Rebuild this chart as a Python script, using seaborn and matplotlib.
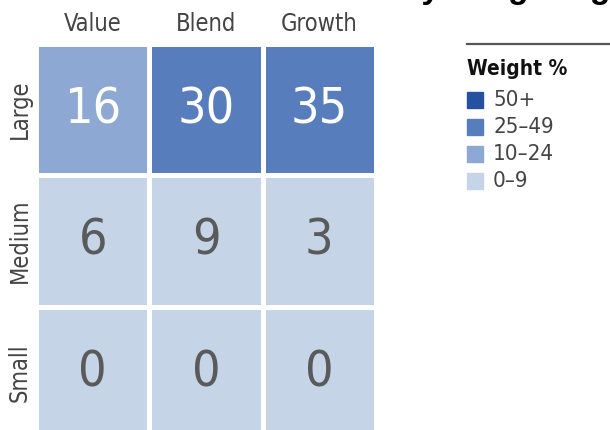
import numpy as np
import pandas as pd
import seaborn as sns
import matplotlib.pyplot as plt
from matplotlib.colors import ListedColormap, BoundaryNorm
from matplotlib.patches import Rectangle
from matplotlib.lines import Line2D

# datos del style box
styles = ['Value', 'Blend', 'Growth']
sizes = ['Large', 'Medium', 'Small']
weights = [[16, 30, 35],
           [6, 9, 3],
           [0, 0, 0]]

legend_labels = ['50+', '25–49', '10–24', '0–9']
legend_colors = ['#2452a0', '#587dbd', '#8da8d3', '#c6d4e8']
bounds = [0, 10, 25, 50, 101]

df = pd.DataFrame(weights, index=sizes, columns=styles)

narrow = dict(family='DejaVu Sans', stretch='condensed')
fig = plt.figure(figsize=(6.1, 4.3), dpi=100)
ax = fig.add_axes([36 / 610, -8 / 430, 340 / 610, 394 / 430])

cmap = ListedColormap(legend_colors[::-1])
norm = BoundaryNorm(bounds, cmap.N)
sns.heatmap(df, ax=ax, cmap=cmap, norm=norm, cbar=False, annot=True, fmt='d',
            linewidths=3.4, linecolor='white',
            annot_kws=dict(fontsize=36, weight='light', **narrow))

for t in ax.texts:
    v = int(t.get_text())
    t.set_color('white' if v >= 10 else '#5a5a5a')

ax.xaxis.tick_top()
ax.tick_params(length=0, pad=6)
ax.tick_params(axis='y', pad=3)
ax.set_xticklabels(styles, fontsize=17, color='#444444', **narrow)
ax.set_yticklabels(sizes, fontsize=17, color='#444444',
                   rotation=90, va='center', **narrow)
ax.set_xlabel('')
ax.set_ylabel('')

# titulo cortado arriba
fig.text(1.0, 1.004, 'Allocation by Weighting', ha='right', va='baseline',
         fontsize=24, fontweight='bold', family='Liberation Sans')

# leyenda a mano
fig.add_artist(Line2D([467 / 610, 1.0], [1 - 44 / 430, 1 - 44 / 430],
                      color='#555555', lw=1.6))
fig.text(467 / 610, 1 - 75 / 430, 'Weight %', fontsize=15, fontweight='bold',
         color='#111111', va='baseline', **narrow)
for i, (lab, col) in enumerate(zip(legend_labels, legend_colors)):
    yc = 100 + i * 27
    fig.add_artist(Rectangle((467 / 610, 1 - (yc + 8) / 430), 16 / 610, 16 / 430,
                             transform=fig.transFigure, color=col))
    fig.text(493 / 610, 1 - yc / 430, lab, fontsize=16,
             color='#444444', va='center', **narrow)

plt.savefig('out.png', dpi=100)
